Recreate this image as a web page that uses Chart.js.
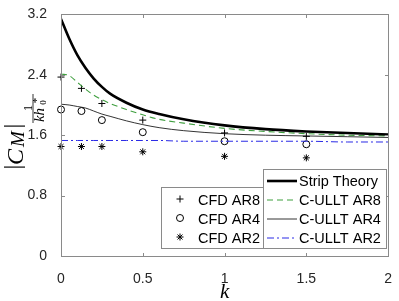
<!DOCTYPE html>
<html>
<head>
<meta charset="utf-8">
<script src="https://cdn.jsdelivr.net/npm/chart.js@4.4.0/dist/chart.umd.min.js"></script>
<style>
  html, body { margin: 0; padding: 0; background: #fff; }
</style>
</head>
<body>
<canvas id="chart" width="399" height="301"></canvas>
<script>
// k values for the model curves
const kCurve = [0, 0.05, 0.1, 0.15, 0.2, 0.25, 0.3, 0.4, 0.5, 0.6, 0.75, 1, 1.25, 1.5, 1.75, 2];
const stripTheory = [3.14, 2.88, 2.66, 2.49, 2.35, 2.24, 2.15, 2.03, 1.94, 1.88, 1.81, 1.73, 1.68, 1.65, 1.63, 1.61];
const culltAR8 = [2.41, 2.39, 2.30, 2.21, 2.13, 2.07, 2.02, 1.94, 1.87, 1.81, 1.76, 1.69, 1.65, 1.62, 1.60, 1.59];
const culltAR4 = [2.01, 2.00, 1.98, 1.96, 1.92, 1.88, 1.85, 1.79, 1.74, 1.70, 1.66, 1.62, 1.60, 1.59, 1.58, 1.57];
const culltAR2 = [1.53, 1.53, 1.53, 1.53, 1.53, 1.53, 1.53, 1.53, 1.53, 1.53, 1.52, 1.52, 1.52, 1.52, 1.51, 1.51];

// CFD samples
const kCfd = [0, 0.125, 0.25, 0.5, 1, 1.5];
const cfdAR8 = [2.37, 2.22, 2.02, 1.80, 1.63, 1.585];
const cfdAR4 = [1.94, 1.92, 1.80, 1.64, 1.52, 1.48];
const cfdAR2 = [1.45, 1.45, 1.45, 1.38, 1.32, 1.30];

const xTicks = [0, 0.5, 1, 1.5, 2];
const yTicks = [0, 0.8, 1.6, 2.4, 3.2];

const axisGray = "#8a8a8a";
const tickFont = { family: "'Liberation Sans', Arial, sans-serif", size: 14 };

function pts(xs, ys) {
  return xs.map((x, i) => ({ x: x, y: ys[i] }));
}

function lineSet(label, ys, color, width, dash) {
  return {
    type: "line", label: label, data: pts(kCurve, ys),
    borderColor: color, borderWidth: width, borderDash: dash,
    pointRadius: 0, fill: false, cubicInterpolationMode: "monotone"
  };
}

function markerSet(label, ys, style) {
  return {
    type: "scatter", label: label, data: pts(kCfd, ys),
    pointStyle: style, pointRadius: 3.5, pointBorderColor: "#000",
    pointBackgroundColor: "rgba(0,0,0,0)", pointBorderWidth: 1, clip: false
  };
}

const datasets = [
  lineSet("Strip Theory", stripTheory, "#000", 2.6, []),
  lineSet("C-ULLT AR8", culltAR8, "#3f9f3f", 1.1, [6, 4]),
  lineSet("C-ULLT AR4", culltAR4, "#000", 0.8, []),
  lineSet("C-ULLT AR2", culltAR2, "#2a2ae6", 1, [7, 3, 2, 3]),
  markerSet("CFD AR8", cfdAR8, "cross"),
  markerSet("CFD AR4", cfdAR4, "circle"),
  markerSet("CFD AR2", cfdAR2, "star")
];

// frame, inward ticks, axis titles and the two legend boxes
const decorations = {
  id: "decorations",
  afterDatasetsDraw(chart) {
    const ctx = chart.ctx;
    const a = chart.chartArea;
    const xs = chart.scales.x, ys = chart.scales.y;
    const L = Math.round(a.left) + 0.5, R = Math.round(a.right) + 0.5;
    const T = Math.round(a.top) + 0.5, B = Math.round(a.bottom) + 0.5;
    ctx.save();
    ctx.strokeStyle = axisGray;
    ctx.lineWidth = 1;
    ctx.setLineDash([]);
    ctx.strokeRect(L, T, R - L, B - T);
    ctx.beginPath();
    xTicks.forEach(v => {
      const px = Math.round(xs.getPixelForValue(v)) + 0.5;
      ctx.moveTo(px, B); ctx.lineTo(px, B - 3.5);
      ctx.moveTo(px, T); ctx.lineTo(px, T + 3.5);
    });
    yTicks.forEach(v => {
      const py = Math.round(ys.getPixelForValue(v)) + 0.5;
      ctx.moveTo(L, py); ctx.lineTo(L + 3.5, py);
      ctx.moveTo(R, py); ctx.lineTo(R - 3.5, py);
    });
    ctx.stroke();

    // x title
    ctx.fillStyle = "#000";
    ctx.font = "italic 21px 'Liberation Serif', serif";
    ctx.textAlign = "center";
    ctx.textBaseline = "alphabetic";
    ctx.fillText("k", (a.left + a.right) / 2, 298);

    // y title: |C_M| 1/(k h_0^*), rotated
    function rot(text, font, ycenter, xbase) {
      ctx.save();
      ctx.translate(xbase, ycenter);
      ctx.rotate(-Math.PI / 2);
      ctx.font = font;
      ctx.textAlign = "center";
      ctx.fillText(text, 0, 0);
      ctx.restore();
    }
    rot("|", "24px 'Liberation Serif', serif", 167, 20);
    rot("C", "italic 24px 'Liberation Serif', serif", 157, 22.5);
    rot("M", "italic 19px 'Liberation Serif', serif", 139, 23.5);
    rot("|", "24px 'Liberation Serif', serif", 126, 20);
    rot("1", "12px 'Liberation Serif', serif", 108, 31.5);
    ctx.beginPath();
    ctx.strokeStyle = "#000";
    ctx.lineWidth = 0.8;
    ctx.moveTo(33, 94); ctx.lineTo(33, 123);
    ctx.stroke();
    rot("kh", "italic 15px 'Liberation Serif', serif", 115, 43.5);
    rot("0", "9px 'Liberation Serif', serif", 102.5, 45.5);
    rot("*", "11px 'Liberation Serif', serif", 100.5, 40);

    // legend boxes
    const legendFont = "14.5px 'Liberation Sans', Arial, sans-serif";
    ctx.fillStyle = "#fff";
    ctx.strokeStyle = axisGray;
    ctx.lineWidth = 1;
    ctx.fillRect(161.5, 187.5, 102, 61);
    ctx.strokeRect(161.5, 187.5, 102, 61);
    ctx.fillRect(263.5, 169.5, 123, 79);
    ctx.strokeRect(263.5, 169.5, 123, 79);

    const rows = [181, 200, 219, 238];
    ctx.font = legendFont;
    ctx.textAlign = "left";
    ctx.textBaseline = "middle";
    for (let i = 0; i < 4; i++) {
      const ds = chart.data.datasets[i];
      ctx.beginPath();
      ctx.strokeStyle = ds.borderColor;
      ctx.lineWidth = ds.borderWidth;
      ctx.setLineDash(ds.borderDash);
      ctx.moveTo(267, rows[i]);
      ctx.lineTo(297, rows[i]);
      ctx.stroke();
      ctx.setLineDash([]);
      ctx.fillStyle = "#000";
      ctx.fillText(ds.label, 299, rows[i] + 0.5);
    }
    for (let i = 0; i < 3; i++) {
      const ds = chart.data.datasets[4 + i];
      const ry = rows[i + 1];
      ctx.strokeStyle = "#000";
      ctx.fillStyle = "rgba(0,0,0,0)";
      ctx.lineWidth = 1;
      Chart.helpers.drawPoint(ctx, { pointStyle: ds.pointStyle, radius: 3.5, borderWidth: 1, rotation: 0 }, 180, ry - 1);
      ctx.fillStyle = "#000";
      ctx.fillText(ds.label, 198, ry + 0.5);
    }
    ctx.restore();
  }
};

new Chart(document.getElementById("chart"), {
  data: { datasets: datasets },
  options: {
    responsive: false,
    animation: false,
    devicePixelRatio: 1,
    layout: { padding: { top: 5, right: 5, left: 0, bottom: 0 } },
    plugins: { legend: { display: false }, tooltip: { enabled: false } },
    scales: {
      x: {
        type: "linear", min: 0, max: 2,
        afterBuildTicks: s => { s.ticks = xTicks.map(v => ({ value: v })); },
        afterFit: s => { s.height = 45; },
        grid: { display: false }, border: { display: false },
        ticks: { font: tickFont, color: "#262626", padding: 7, maxRotation: 0,
                 callback: v => String(v) }
      },
      y: {
        type: "linear", min: 0, max: 3.2,
        afterBuildTicks: s => { s.ticks = yTicks.map(v => ({ value: v })); },
        afterFit: s => { s.width = 61; },
        grid: { display: false }, border: { display: false },
        ticks: { font: tickFont, color: "#262626", padding: 6,
                 callback: v => String(v) }
      }
    }
  },
  plugins: [decorations]
});
</script>
</body>
</html>
